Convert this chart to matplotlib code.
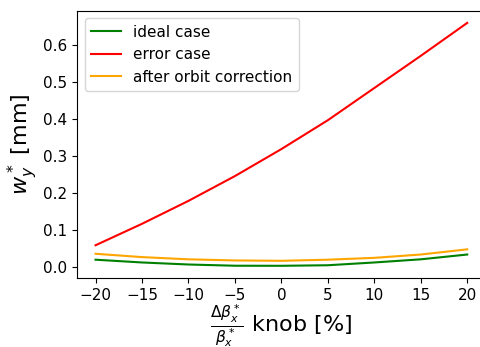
import numpy as np
import matplotlib
matplotlib.use('Agg')
import matplotlib.pyplot as plt

# knob setting in percent
knob = [-20, -15, -10, -5, 0, 5, 10, 15, 20]
# vertical waist shift w_y* in mm
ideal = [0.019, 0.0115, 0.006, 0.0027, 0.0025, 0.004, 0.0115, 0.020, 0.033]
error = [0.058, 0.116, 0.178, 0.245, 0.318, 0.396, 0.483, 0.570, 0.659]
corrected = [0.035, 0.026, 0.020, 0.017, 0.016, 0.019, 0.024, 0.033, 0.047]

fig = plt.figure(figsize=(4.81, 3.47), dpi=100)
ax = fig.add_axes([0.160, 0.199, 0.850, 0.770])
ax.plot(knob, ideal, color='green', label='ideal case')
ax.plot(knob, error, color='red', label='error case')
ax.plot(knob, corrected, color='orange', label='after orbit correction')

ax.set_xticks([-20, -15, -10, -5, 0, 5, 10, 15, 20])
ax.set_yticks([0.0, 0.1, 0.2, 0.3, 0.4, 0.5, 0.6])
ax.tick_params(labelsize=11)
ax.set_xlabel(r'$\frac{\Delta\beta_x^*}{\beta_x^*}$ knob [%]', fontsize=16, labelpad=0)
ax.set_ylabel(r'$w_y^*$ [mm]', fontsize=16, labelpad=2)
ax.legend(loc='upper left', fontsize=11)

fig.savefig('out.png', dpi=100)
